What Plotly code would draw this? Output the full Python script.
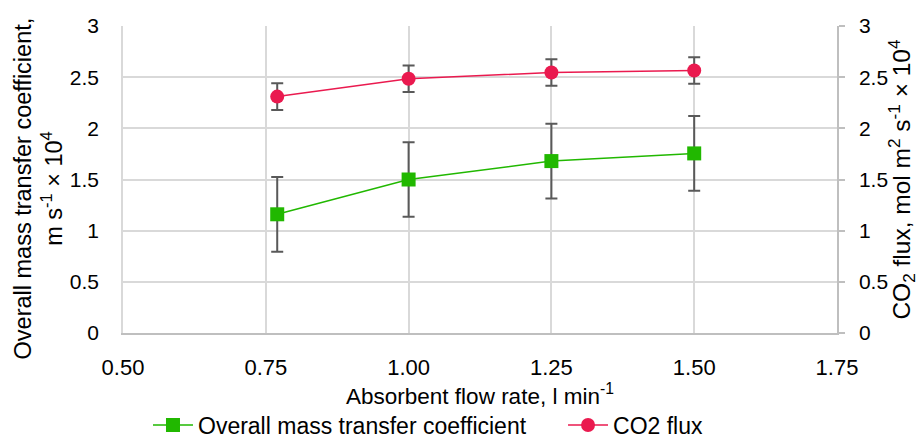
import plotly.graph_objects as go

flow = [0.77, 1.00, 1.25, 1.50]
k_overall = [1.16, 1.50, 1.68, 1.755]
k_err = [0.365, 0.365, 0.365, 0.365]
co2_flux = [2.31, 2.485, 2.545, 2.565]
co2_err = [0.13, 0.13, 0.13, 0.13]

x_ticks = [0.50, 0.75, 1.00, 1.25, 1.50, 1.75]
y_ticks = [0, 0.5, 1, 1.5, 2, 2.5, 3]
y_ticklabels = ["0", "0.5", "1", "1.5", "2", "2.5", "3"]

GREEN = "#21b800"
RED = "#ea1a4f"
ERR = "#595959"
GRID = "#d9d9d9"
FONT = "Liberation Sans, Arial, sans-serif"

fig = go.Figure()
fig.add_trace(go.Scatter(
    x=flow, y=k_overall, name="Overall mass transfer coefficient\u00a0\u00a0\u00a0\u00a0\u00a0",
    mode="lines+markers",
    line=dict(color=GREEN, width=1.5),
    marker=dict(symbol="square", size=14, color=GREEN),
    error_y=dict(type="data", array=k_err, color=ERR, thickness=2, width=6),
))
fig.add_trace(go.Scatter(
    x=flow, y=co2_flux, name="CO2 flux", yaxis="y2",
    mode="lines+markers",
    line=dict(color=RED, width=1.5),
    marker=dict(symbol="circle", size=14, color=RED),
    error_y=dict(type="data", array=co2_err, color=ERR, thickness=2, width=6),
))

fig.update_layout(
    width=919, height=443,
    margin=dict(l=123, r=82, t=26, b=110, autoexpand=False),
    paper_bgcolor="white", plot_bgcolor="white",
    font=dict(family=FONT, size=20, color="#000000"),
    showlegend=True,
    legend=dict(orientation="h", x=0.035, xanchor="left", y=-0.30, yanchor="middle",
                font=dict(size=23), itemwidth=40, tracegroupgap=0),
    xaxis=dict(
        range=[0.5, 1.75], tickvals=x_ticks,
        ticktext=[f"{v:.2f}" for v in x_ticks],
        showgrid=True, gridcolor=GRID, gridwidth=1.5,
        showline=True, linecolor="#bfbfbf", linewidth=1.5,
        zeroline=False, ticks="", automargin=False,
        ticklabelstandoff=14,
        title=dict(text="Absorbent flow rate, l min<sup>-1</sup>", standoff=9, font=dict(size=22.5)),
        tickfont=dict(size=22),
    ),
    yaxis=dict(
        range=[0, 3], tickvals=y_ticks, ticktext=y_ticklabels,
        showgrid=True, gridcolor=GRID, gridwidth=1.5,
        zeroline=False, showline=True, linecolor=GRID, linewidth=1.5,
        ticks="", automargin=False, ticklabelstandoff=18,
        tickfont=dict(size=21),
    ),
    yaxis2=dict(
        range=[0, 3], tickvals=y_ticks, ticktext=y_ticklabels,
        overlaying="y", side="right", showgrid=False, zeroline=False,
        showline=True, linecolor="#bfbfbf", linewidth=1.5, automargin=False,
        ticks="outside", ticklen=6, tickcolor="#bfbfbf", tickwidth=1.5,
        ticklabelstandoff=10,
        title=dict(text="CO<sub>2</sub> flux, mol m<sup>2</sup> s<sup>-1</sup> × 10<sup>4</sup>",
                   standoff=8, font=dict(size=24.5)),
        tickfont=dict(size=21),
    ),
    annotations=[dict(
        text="Overall mass transfer coefficient,<br>m s<sup>-1</sup> × 10<sup>4</sup>",
        xref="paper", yref="paper", x=-0.118, y=0.47,
        xanchor="center", yanchor="middle", textangle=-90, showarrow=False,
        font=dict(size=23.5),
    )],
)

fig.write_html("out.html", config={"displayModeBar": False},
               post_script="document.body.style.margin='0';document.body.style.overflow='hidden';")
